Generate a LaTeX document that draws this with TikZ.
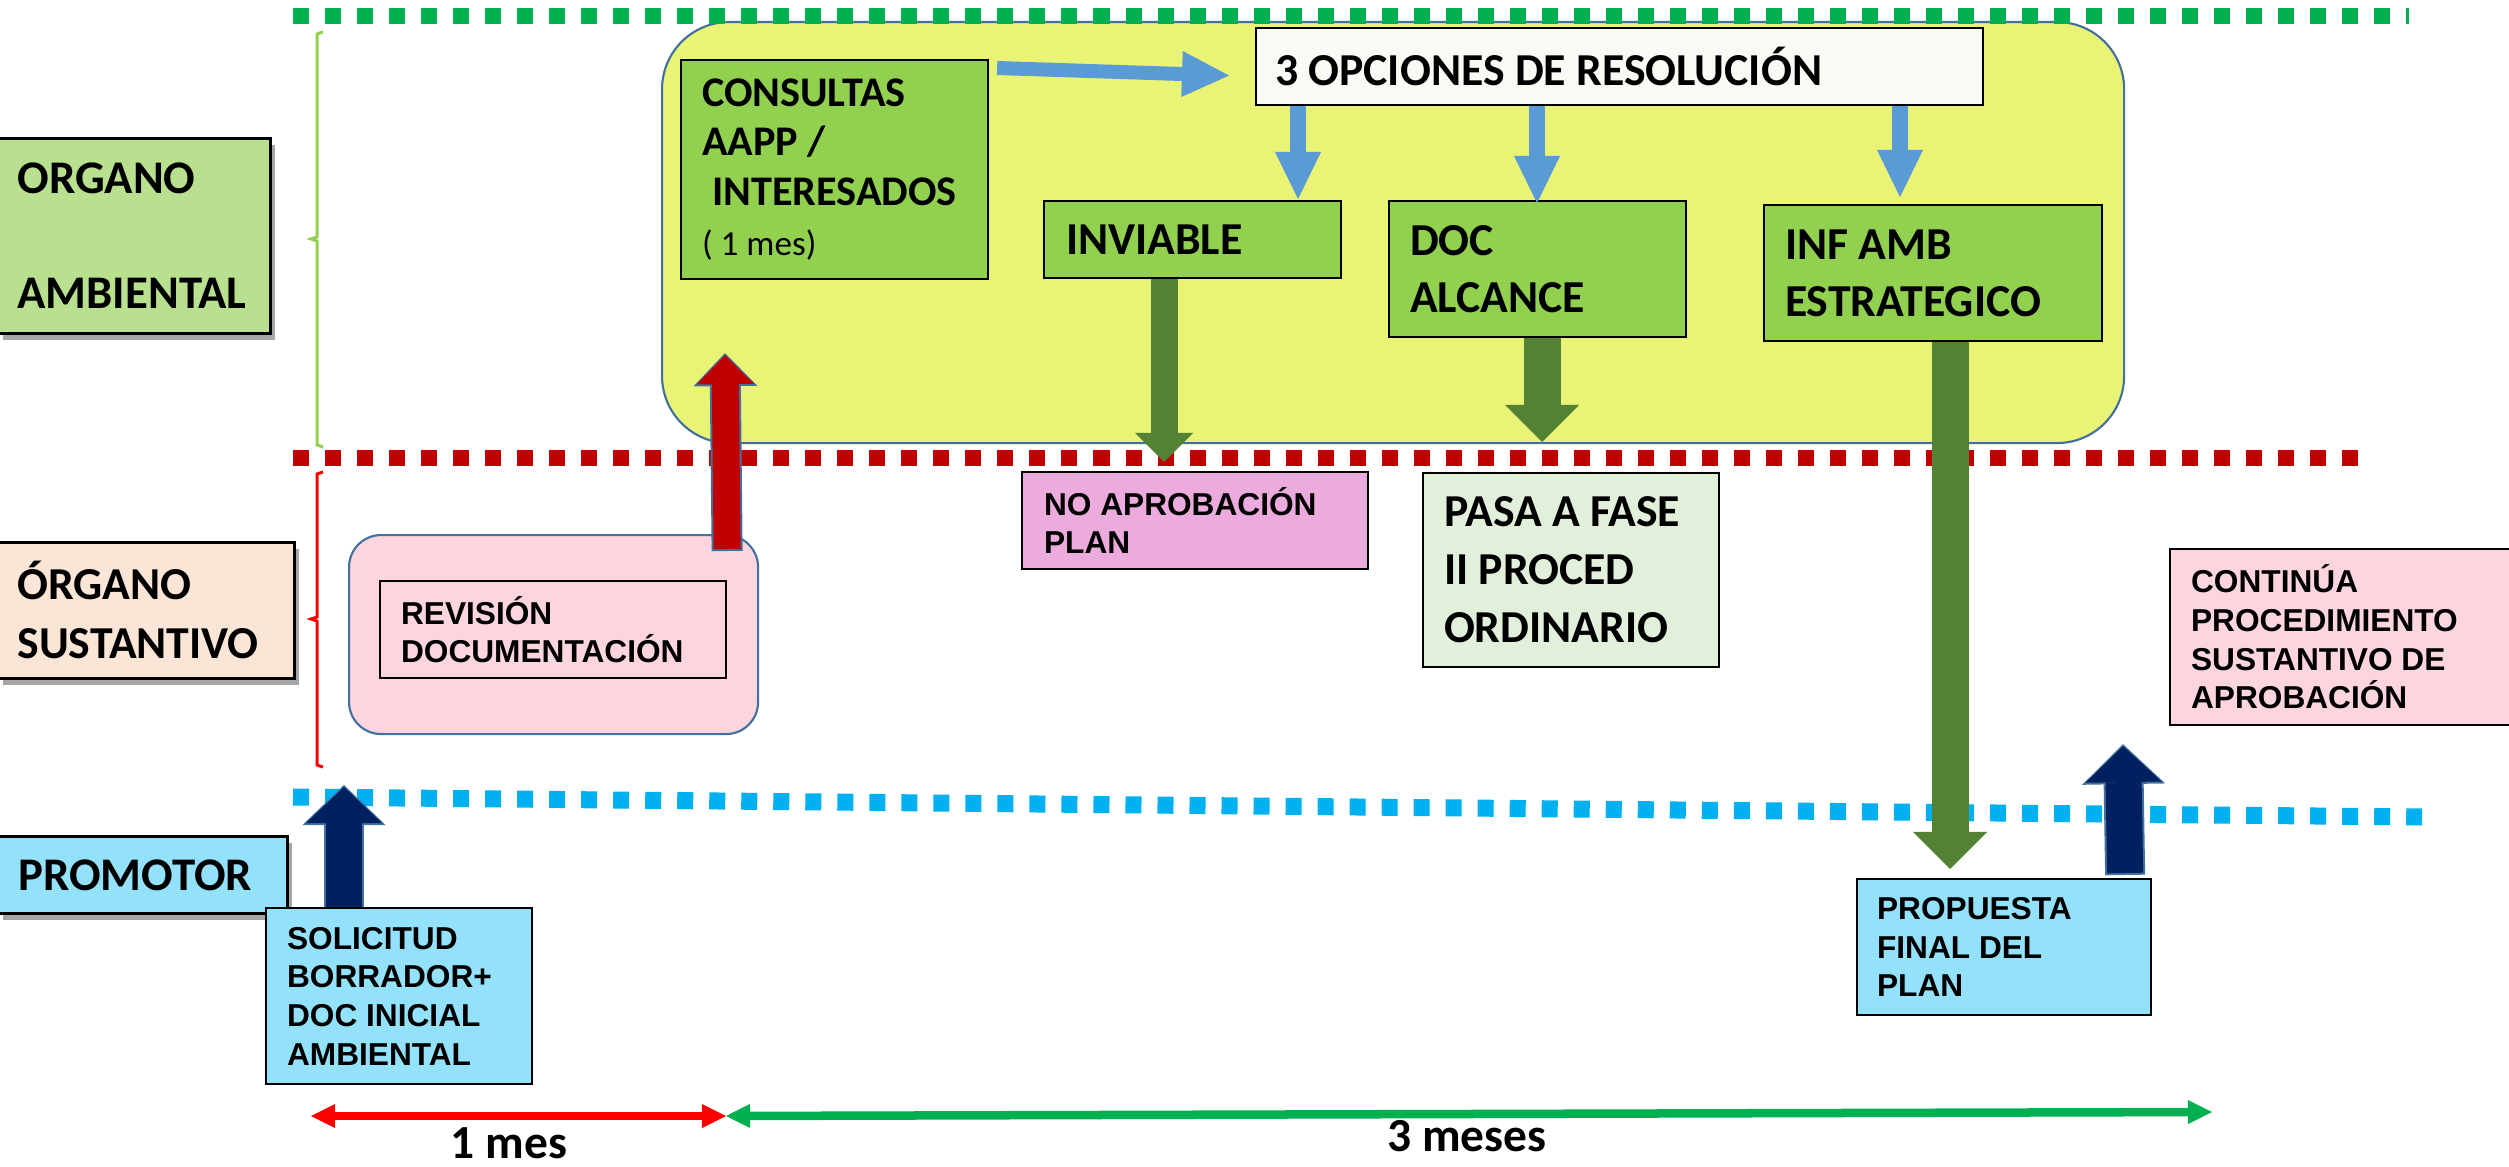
\documentclass[tikz,border=0pt]{standalone}
\usepackage{fontspec}
\setmainfont{Carlito}
\newfontfamily\arialf{Liberation Sans}
\usetikzlibrary{arrows.meta,calc,shadows}
\definecolor{ambfill}{HTML}{B9E08F}
\definecolor{sustfill}{HTML}{FBE5D6}
\definecolor{promfill}{HTML}{94E1FB}
\definecolor{yelfill}{HTML}{E9F376}
\definecolor{grnbox}{HTML}{92D050}
\definecolor{optfill}{HTML}{F8FBF4}
\definecolor{pinkfill}{HTML}{FCD5DE}
\definecolor{violfill}{HTML}{EBABDD}
\definecolor{pasafill}{HTML}{E2EFDA}
\definecolor{arrblue}{HTML}{5B9BD5}
\definecolor{dkgreen}{HTML}{548235}
\definecolor{dkred}{HTML}{C00000}
\definecolor{navyc}{HTML}{002060}
\definecolor{outl}{HTML}{41719C}
\definecolor{dotgreen}{HTML}{00B050}
\definecolor{dotblue}{HTML}{00B0F0}
\definecolor{brgreen}{HTML}{92D050}
\newcommand\placebox[8]{%
 \pgfmathsetmacro\pbW{(#5-(#3))*0.01}%
 \pgfmathsetmacro\pbH{(#6-(#4))*0.01}%
 \pgfmathsetmacro\pbT{(#5-(#3)-2*(#7))*0.01}%
 \pgfmathsetmacro\pbX{(#7)*0.01}%
 \node[#2, anchor=north west, inner xsep=\pbX cm, inner ysep=0pt, minimum width=\pbW cm, minimum height=\pbH cm, text width=\pbT cm, align=left] (#1) at (#3,#4) {\spaceskip=0pt\xspaceskip=0pt\relax #8};}
\tikzset{
 lbl/.style={draw=black, line width=0.8pt, drop shadow={shadow xshift=0.05cm, shadow yshift=-0.07cm, opacity=0.35, fill=black}},
 calbig/.style={font=\fontsize{13}{16.2}\selectfont\bfseries},
 arialtxt/.style={font=\arialf\fontsize{9}{11}\selectfont\bfseries},
 bx/.style={draw=black, line width=0.6pt},
 gbox/.style={bx, fill=grnbox},
 bluearr/.style={draw=arrblue, line width=0.16cm, -{Triangle[length=0.47cm,width=0.46cm,line width=0pt]}},
 grnarrA/.style={draw=dkgreen, line width=0.27cm, -{Triangle[length=0.29cm,width=0.58cm,line width=0pt]}},
 grnarrB/.style={draw=dkgreen, line width=0.37cm, -{Triangle[length=0.37cm,width=0.74cm,line width=0pt]}},
 redarr/.style={draw=dkred, line width=0.27cm, -{Triangle[length=0.29cm,width=0.57cm,line width=0pt]}},
 redarrout/.style={draw=outl, line width=0.31cm, -{Triangle[length=0.33cm,width=0.64cm,line width=0pt]}},
 navarr/.style={draw=navyc, line width=0.36cm, -{Triangle[length=0.36cm,width=0.76cm,line width=0pt]}},
 navarrout/.style={draw=outl, line width=0.40cm, -{Triangle[length=0.40cm,width=0.83cm,line width=0pt]}},
 lane/.style={line width=0.16cm, dash pattern=on 0.16cm off 0.16cm},
 tline/.style={line width=0.08cm, {Triangle[length=0.24cm,width=0.24cm,line width=0pt]}-{Triangle[length=0.24cm,width=0.24cm,line width=0pt]}},
 tlabel/.style={font=\fontsize{13.5}{16}\selectfont\bfseries, inner sep=0pt}
}
\begin{document}
\begin{tikzpicture}[x=0.01cm,y=-0.01cm]
\useasboundingbox[fill=white] (0,0) rectangle (2509,1167);

% containers
\placebox{resbox}{draw=outl, fill=yelfill, line width=0.6pt, rounded corners=0.67cm}{661}{21}{2123}{442}{0}{}
\placebox{revbox}{draw=outl, fill=pinkfill, line width=0.6pt, rounded corners=0.32cm}{348}{534}{757}{733}{0}{}

% lane separators
\draw[lane, dotgreen] (293,16) -- (2409,16);
\draw[lane, dkred, line width=0.15cm] (293,458) -- (2359,458);
\draw[lane, dotblue, line width=0.17cm] (293,797) -- (2422,817);

% brackets
\draw[brgreen, line width=0.03cm] (323,32) -- (317,34) -- (317,237) -- (311,239) -- (317,241) -- (317,445) -- (323,447);
\draw[red, line width=0.03cm] (323,472) -- (317,474) -- (317,617) -- (311,619) -- (317,621) -- (317,765) -- (323,767);

% lane labels
\placebox{amb}{lbl, fill=ambfill, font=\fontsize{13.3}{32.7}\selectfont\bfseries}{-3}{137}{269}{332}{19}{ORGANO\\AMBIENTAL}
\placebox{sust}{lbl, fill=sustfill, font=\fontsize{13}{16.8}\selectfont\bfseries}{-3}{541}{293}{677}{19}{ÓRGANO\\SUSTANTIVO}
\placebox{prom}{lbl, fill=promfill, font=\fontsize{13.3}{16}\selectfont\bfseries}{-3}{835}{286}{912}{20}{PROMOTOR}

% organo ambiental boxes
\placebox{consultas}{gbox, font=\fontsize{12}{14.2}\selectfont\bfseries}{680}{59}{987}{278}{21}{CONSULTAS\\AAPP /\\\hspace*{0.1cm}INTERESADOS\\{\mdseries\fontsize{10}{14.2}\selectfont ( 1 mes)}}
\placebox{opciones}{bx, fill=optfill, font=\fontsize{13}{16}\selectfont\bfseries}{1255}{27}{1982}{104}{19}{3 OPCIONES DE RESOLUCIÓN}
\placebox{inviable}{gbox, calbig}{1043}{200}{1340}{277}{22}{INVIABLE}
\placebox{docalc}{gbox, calbig}{1388}{200}{1685}{336}{21}{DOC\\ALCANCE}
\placebox{infamb}{gbox, calbig}{1763}{204}{2101}{340}{21}{INF AMB\\ESTRATEGICO}

% lower boxes
\placebox{revdoc}{bx, fill=pinkfill, arialtxt}{379}{580}{725}{677}{21}{REVISIÓN\\DOCUMENTACIÓN}
\placebox{noaprob}{bx, fill=violfill, arialtxt}{1021}{471}{1367}{568}{22}{NO APROBACIÓN\\PLAN}
\placebox{pasa}{bx, fill=pasafill, font=\fontsize{13}{16.5}\selectfont\bfseries}{1422}{472}{1718}{666}{21}{PASA A FASE\\II PROCED\\ORDINARIO}
\placebox{continua}{bx, fill=pinkfill, arialtxt}{2169}{548}{2515}{724}{21}{CONTINÚA\\PROCEDIMIENTO\\SUSTANTIVO DE\\APROBACIÓN}
\placebox{solicitud}{bx, fill=promfill, arialtxt}{265}{907}{531}{1083}{21}{SOLICITUD\\BORRADOR+\\DOC INICIAL\\AMBIENTAL}
\placebox{propuesta}{bx, fill=promfill, arialtxt}{1856}{878}{2150}{1014}{20}{PROPUESTA\\FINAL DEL\\PLAN}

% blue arrows
\coordinate (c1s) at ($(consultas.north east)+(8,9)$);
\coordinate (c1e) at ($(opciones.west)+(-26,9)$);
\draw[bluearr, line width=0.14cm] (c1s) -- (c1e);
\coordinate (o1) at ($(inviable.north west)+(255,-1)$);
\coordinate (o2) at ($(docalc.north west)+(149,3)$);
\coordinate (o3) at ($(infamb.north west)+(137,-7)$);
\draw[bluearr] (opciones.south -| o1) -- (o1);
\draw[bluearr] (opciones.south -| o2) -- (o2);
\draw[bluearr] (opciones.south -| o3) -- (o3);

% green arrows
\coordinate (g1) at ($(noaprob.north west)+(143,-9)$);
\coordinate (g2) at ($(pasa.north west)+(120,-30)$);
\coordinate (g3) at ($(propuesta.north west)+(94,-9)$);
\draw[grnarrA] (inviable.south -| g1) -- (g1);
\draw[grnarrB] (docalc.south -| g2) -- (g2);
\draw[grnarrB] (infamb.south -| g3) -- (g3);

% red arrow (outlined)
\coordinate (r0) at ($(revbox.north east)+(-32,15)$);
\coordinate (r1) at ($(consultas.south west)+(45,75)$);
\draw[redarrout] ($(r0)+(0,2)$) -- ($(r1)+(0,-2)$);
\draw[redarr] (r0) -- (r1);

% navy arrows (outlined)
\coordinate (n1) at ($(solicitud.north west)+(79,-120)$);
\draw[navarrout] (solicitud.north -| n1) -- ($(n1)+(0,-2)$);
\draw[navarr] (solicitud.north -| n1) -- (n1);
\coordinate (n0) at ($(propuesta.north east)+(-27,-5)$);
\coordinate (n2) at ($(continua.south west)+(-46,20)$);
\draw[navarrout] ($(n0)+(0,2)$) -- ($(n2)+(0,-2)$);
\draw[navarr] (n0) -- (n2);

% timeline
\coordinate (t0) at (311,1116);
\coordinate (t1) at (726,1116);
\coordinate (t2) at (2212,1112);
\draw[tline, red] (t0) -- (t1);
\draw[tline, dotgreen, line width=0.085cm] (t1) -- (t2);
\node[tlabel] (mes1) at (509,1143) {1 mes};
\node[tlabel] (mes3) at (1467,1136) {3 meses};
\end{tikzpicture}
\end{document}
